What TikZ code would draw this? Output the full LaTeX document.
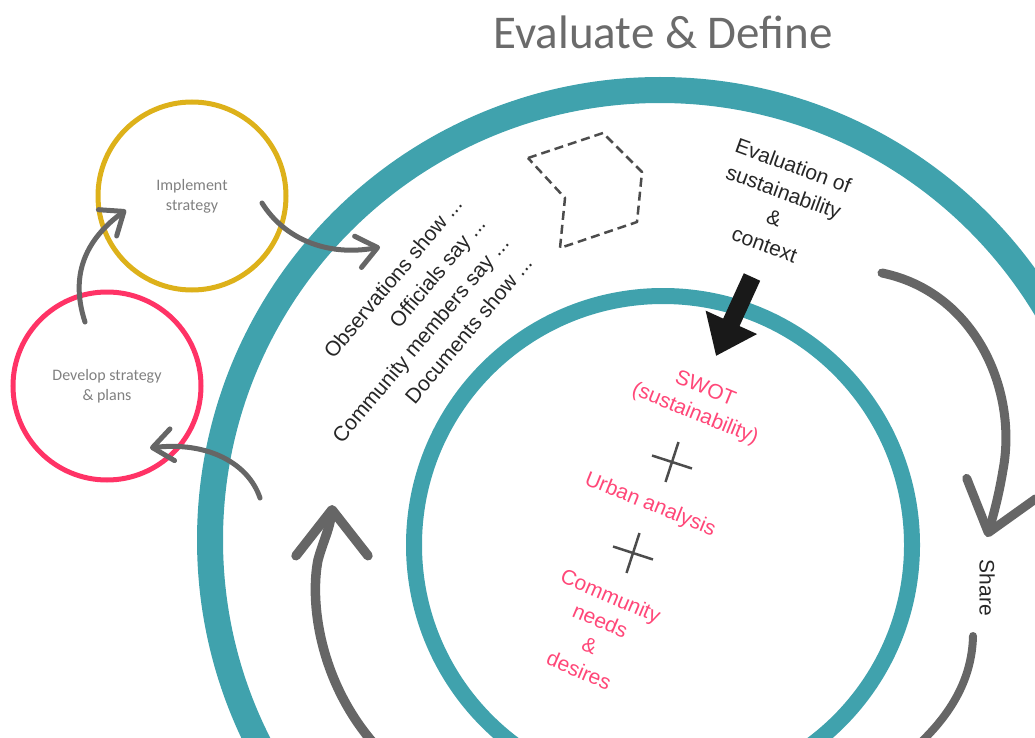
\documentclass[tikz,border=0pt]{standalone}
\usepackage{fontspec}
\setmainfont{Liberation Sans}
\newfontfamily\titlefont{Carlito}
\usetikzlibrary{arrows.meta,bending}

\definecolor{ringteal}{HTML}{40A2AD}
\definecolor{implyellow}{HTML}{DDB11A}
\definecolor{devpink}{HTML}{FF3366}
\definecolor{arrowgray}{HTML}{666666}
\definecolor{titlegray}{HTML}{6B6B6B}
\definecolor{notegray}{HTML}{808080}
\definecolor{swotpink}{HTML}{FF4778}

\tikzset{
  ring/.style={draw=ringteal},
  stagecircle/.style={circle, line width=5pt, minimum size=188pt, inner sep=0pt, align=center,
    font=\titlefont\fontsize{16}{20}\selectfont, text=notegray},
  flowarrow/.style={draw=arrowgray, line width=5pt, line cap=round,
    -{Straight Barb[length=20pt,width=32pt,round]}},
  bigarrow/.style={draw=arrowgray, line width=9.5pt, line cap=round,
    -{Straight Barb[length=46pt,width=72pt,round]}},
  sidetext/.style={font=\fontsize{21}{28}\selectfont, text=black!85},
  pinktext/.style={font=\fontsize{21}{27}\selectfont, text=swotpink, align=center, rotate=-22},
  plusmark/.style={draw=black!70, line width=2.5pt},
  dashframe/.style={draw=black!70, line width=2.5pt, dash pattern=on 9pt off 5pt, line join=round},
}

\begin{document}
\begin{tikzpicture}[x=1pt, y=-1pt]

    % Page frame
    \useasboundingbox (0,0) rectangle (1035,738);
    \clip (0,0) rectangle (1035,738);

    % The two teal rings
    \draw[ring, line width=26pt] (660,540) circle[radius=450pt];
    \draw[ring, line width=16pt] (663,545) circle[radius=249pt];

    % Title
    \node[font=\titlefont\fontsize{47}{56}\selectfont, text=titlegray] (title) at (663,32) {Evaluate \& Define};

    % Stage circles on the left
    \node[stagecircle, draw=implyellow] (impl) at (192,196) {Implement\\strategy};
    \node[stagecircle, draw=devpink] (dev) at (107,386) {Develop strategy\\\& plans};

    % Small arrows between the stages
    \coordinate (devout) at (85,322);
    \coordinate (implin) at (126,210);
    \draw[flowarrow] (devout) .. controls (68,270) and (90,235) .. (implin);

    \coordinate (implout) at (262,203);
    \coordinate (obsin) at (380,247);
    \draw[flowarrow] (implout) .. controls (285,240) and (330,258) .. (obsin);

    \coordinate (ringout) at (260,498);
    \coordinate (devin) at (150,448);
    \draw[flowarrow] (ringout) .. controls (248,462) and (205,440) .. (devin);

    % Sources of evidence
    \node[sidetext, font=\fontsize{21}{30.5}\selectfont, align=right, rotate=50, anchor=east, inner sep=2pt] (sources) at (494,228)
        {Observations show ...\\Officials say ...\\Community members say ...\\Documents show ...};

    % Dashed marker
    \draw[dashframe] (528,158) -- (603,133) -- (642,172) -- (637,222) -- (560,248) -- (565,198) -- cycle;

    % Evaluation label and its arrow into the inner ring
    \node[sidetext, align=center, rotate=-20] (evaltext) at (779,205)
        {Evaluation of\\sustainability\\\&\\context};
    \coordinate (evtail) at (752,277);
    \coordinate (evtip) at (716,356);
    \draw[line width=18pt, black!90, -{Triangle[length=37pt,width=54pt]}] (evtail) -- (evtip);

    % Inner column
    \node[pinktext] (swot) at (700,402) {SWOT\\(sustainability)};
    \coordinate (plusA) at (672,462);
    \draw[plusmark, shift={(plusA)}, rotate=-18] (-21,0) -- (21,0) (0,-21) -- (0,21);
    \node[pinktext] (urban) at (650,505) {Urban analysis};
    \coordinate (plusB) at (633,553);
    \draw[plusmark, shift={(plusB)}, rotate=-18] (-21,0) -- (21,0) (0,-21) -- (0,21);
    \node[pinktext, rotate=-1] (needs) at (595,633) {Community\\needs\\\&\\desires};

    % Big loop arrows
    \coordinate (upstart) at (375,745);
    \coordinate (uptip) at (332,505);
    \draw[bigarrow] (upstart) .. controls (318,680) and (310,600) .. (318,560)
        .. controls (324,538) and (332,525) .. (uptip);

    \coordinate (sharestart) at (882,273);
    \coordinate (sharetip) at (987,537);
    \draw[bigarrow, line width=9pt] (sharestart) .. controls (975,292) and (1018,390) .. (1003,470)
        .. controls (998,500) and (992,520) .. (sharetip);

    \node[sidetext, rotate=-90] (share) at (987,588) {Share};
    \coordinate (tailtop) at (973,636);
    \coordinate (tailend) at (918,745);
    \draw[draw=arrowgray, line width=8pt, line cap=round] (tailtop) .. controls (972,680) and (950,715) .. (tailend);

\end{tikzpicture}
\end{document}
